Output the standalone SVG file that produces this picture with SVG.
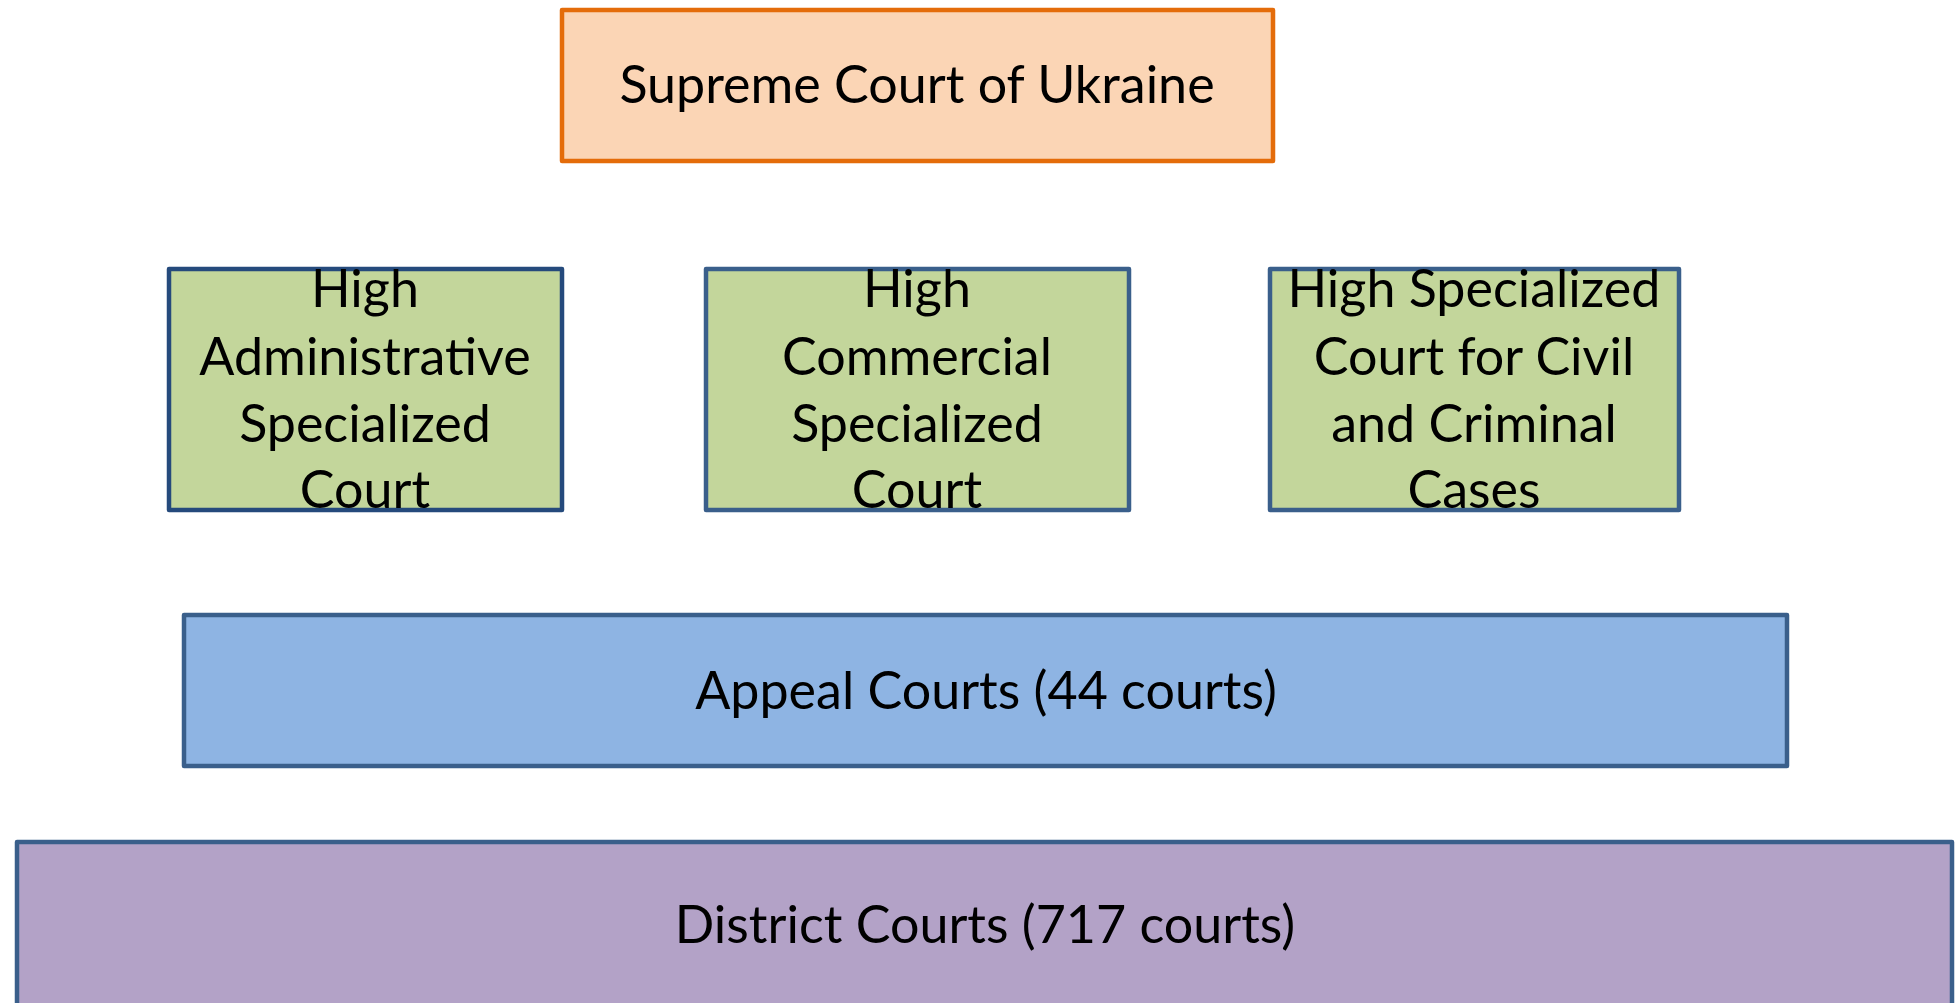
<svg xmlns="http://www.w3.org/2000/svg" width="1955" height="1003" viewBox="0 0 1955 1003">
<style>
  .box { stroke-width: 4.5; stroke-linejoin: round; }
  .lbl { font-family: Lato, "Open Sans", "Liberation Sans", sans-serif; font-size: 52px; fill: #000; text-anchor: middle; }
  .supreme { fill: #FBD5B5; stroke: #E46C0A; }
  .high { fill: #C3D69B; stroke: #3A5F8B; }
  .appeal { fill: #8EB4E3; stroke: #3A5F8B; }
  .district { fill: #B3A2C7; stroke: #3A5F8B; }
</style>
<rect width="1955" height="1003" fill="#FFFFFF"/>
<g id="connectors"></g>
<g id="supreme">
  <rect class="box supreme" x="562" y="10" width="711" height="151"/>
  <text class="lbl" x="917" y="103">Supreme Court of Ukraine</text>
</g>
<g id="high-admin">
  <rect class="box high" x="169" y="269" width="393" height="241" style="stroke:#254A7C"/>
  <text class="lbl" x="365" y="307">High</text>
  <text class="lbl" x="365" y="375">Administrative</text>
  <text class="lbl" x="365" y="442">Specialized</text>
  <text class="lbl" x="365" y="508">Court</text>
</g>
<g id="high-commercial">
  <rect class="box high" x="706" y="269" width="423" height="241"/>
  <text class="lbl" x="917" y="307">High</text>
  <text class="lbl" x="917" y="375">Commercial</text>
  <text class="lbl" x="917" y="442">Specialized</text>
  <text class="lbl" x="917" y="508">Court</text>
</g>
<g id="high-civil">
  <rect class="box high" x="1270" y="269" width="409" height="241"/>
  <text class="lbl" x="1474" y="307">High Specialized</text>
  <text class="lbl" x="1474" y="375">Court for Civil</text>
  <text class="lbl" x="1474" y="442">and Criminal</text>
  <text class="lbl" x="1474" y="508">Cases</text>
</g>
<g id="appeal">
  <rect class="box appeal" x="184" y="615" width="1603" height="151"/>
  <text class="lbl" x="986" y="709">Appeal Courts (44 courts)</text>
</g>
<g id="district">
  <rect class="box district" x="17" y="842" width="1935" height="200"/>
  <text class="lbl" x="985" y="943">District Courts (717 courts)</text>
</g>
</svg>
